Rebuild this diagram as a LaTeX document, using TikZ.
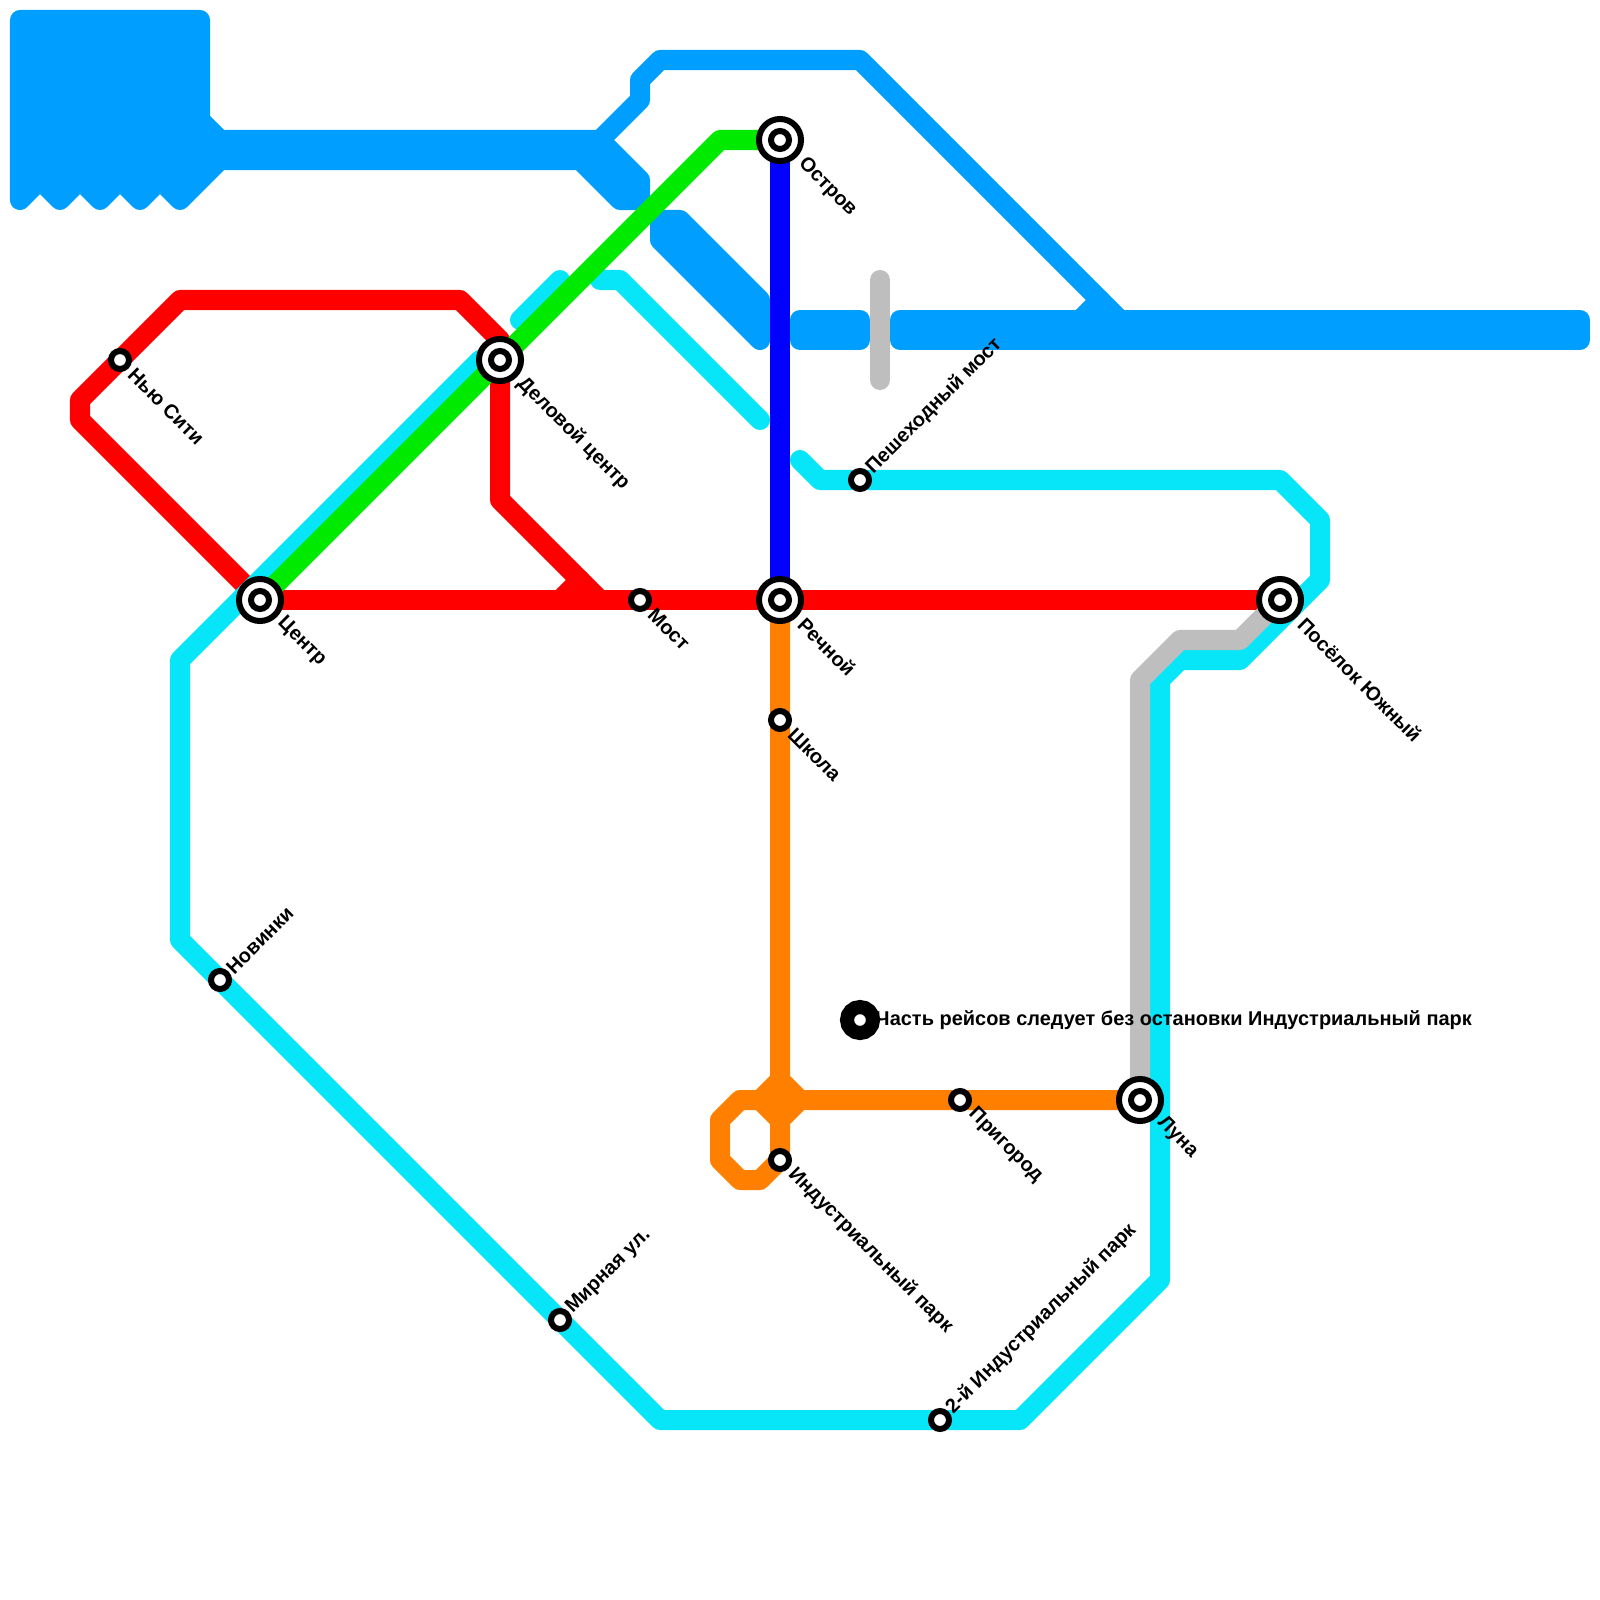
\documentclass[tikz,border=0pt]{standalone}
\usepackage{fontspec}
\setmainfont{Liberation Sans}
\usetikzlibrary{backgrounds}

\definecolor{skyline}{HTML}{009EFF}
\definecolor{aqualine}{HTML}{07E6F8}
\definecolor{grassline}{HTML}{00EA00}
\definecolor{ambline}{HTML}{FF8000}
\definecolor{ashline}{HTML}{BEBEBE}

\tikzset{
  route/.style={line width=0.2cm,line cap=round,line join=round},
  band/.style={line width=0.2cm,line join=round,draw=skyline,fill=skyline},
  stopring/.style={circle,draw=black,fill=white,line width=0.06cm,inner sep=0pt,minimum size=0.18cm},
  hub/.style={circle,draw=black,fill=white,line width=0.06cm,inner sep=0pt,minimum size=0.42cm},
  hubcore/.style={circle,draw=black,fill=white,line width=0.06cm,inner sep=0pt,minimum size=0.18cm},
  namedown/.style={anchor=west,rotate=-45,inner sep=0pt,font=\fontsize{5.68}{7}\bfseries},
  nameup/.style={anchor=west,rotate=45,inner sep=0pt,font=\fontsize{5.68}{7}\bfseries},
}

\begin{document}
\begin{tikzpicture}[x=0.01cm,y=-0.01cm]
  \useasboundingbox (0,0) rectangle (1600,1600);

  % Interchanges
  \foreach \n/\px/\py in {centr/260/600,delovoy/500/360,ostrov/780/140,rechnoy/780/600,
                          yuzhny/1280/600,luna/1140/1100} {
    \node[hub] (\n) at (\px,\py) {};
    \node[hubcore] (\n core) at (\n) {};
  }

  % Plain stops
  \foreach \n/\px/\py in {nyucity/120/360,most/640/600,shkola/780/720,novinki/220/980,
                          peshmost/860/480,mirnaya/560/1320,vtoroy/940/1420,
                          prigorod/960/1100,indpark/780/1160} {
    \node[stopring] (\n) at (\px,\py) {};
  }

  % Note mark
  \node[circle,draw=black,fill=white,line width=0.14cm,inner sep=0pt,minimum size=0.26cm] (notemark) at (860,1020) {};

  \begin{pgfonlayer}{background}
    % Wide blue bands
    \filldraw[band] (20,20) -- (200,20) -- (200,120) -- (220,140) -- (220,160) -- (180,200)
      -- (160,180) -- (140,200) -- (120,180) -- (100,200) -- (80,180) -- (60,200)
      -- (40,180) -- (20,200) -- cycle;
    \filldraw[band] (220,140) -- (600,140) -- (640,180) -- (640,200) -- (620,200)
      -- (580,160) -- (220,160) -- cycle;
    \filldraw[band] (660,220) -- (680,220) -- (760,300) -- (760,340) -- (660,240) -- cycle;
    \filldraw[band] (800,320) -- (860,320) -- (860,340) -- (800,340) -- cycle;
    \filldraw[band] (900,320) -- (1580,320) -- (1580,340) -- (900,340) -- cycle;

    % Thin blue branch
    \draw[route,skyline] (600,140) -- (640,100) -- (640,80) -- (660,60) -- (860,60) -- (1120,320);
    \draw[route,skyline] (1100,300) -- (1080,320);

    % Red
    \draw[route,red] (centr.center) -- (80,420) -- (80,400) -- (180,300) -- (460,300)
      -- (500,340) -- (delovoy.center) -- (500,500) -- (600,600);
    \draw[route,red] (centr.center) -- (yuzhny.center);
    \draw[route,red] (580,580) -- (560,600);

    % Cyan ring
    \draw[route,aqualine] (480,360) -- (180,660)
      -- (180,940) -- (660,1420) -- (1020,1420) -- (1160,1280) -- (1160,680) -- (1180,660)
      -- (1240,660) -- (1320,580) -- (1320,520) -- (1280,480) -- (820,480) -- (800,460);
    \draw[route,aqualine] (520,320) -- (560,280);
    \draw[route,aqualine] (600,280) -- (620,280) -- (760,420);

    % Grey line and footbridge
    \draw[route,ashline] (luna.center) -- (1140,680) -- (1180,640) -- (1240,640) -- (yuzhny.center);
    \draw[route,ashline] (880,280) -- (880,380);

    % Green and blue
    \draw[route,grassline] (centr.center) -- (720,140) -- (ostrov.center);
    \draw[route,blue] (ostrov.center) -- (rechnoy.center);

    % Orange
    \draw[route,ambline] (rechnoy.center) -- (indpark.center) -- (760,1180) -- (740,1180)
      -- (720,1160) -- (720,1120) -- (740,1100) -- (luna.center);
    \filldraw[route,ambline] (760,1100) -- (780,1080) -- (800,1100) -- (780,1120) -- cycle;
  \end{pgfonlayer}

  % Stop names
  \node[namedown] (nyucitylbl) at ([shift={(11,11)}]nyucity.center) {Нью Сити};
  \node[namedown] (centrlbl) at ([shift={(20,20)}]centr.center) {Центр};
  \node[namedown] (delovoylbl) at ([shift={(20,20)}]delovoy.center) {Деловой центр};
  \node[namedown] (ostrovlbl) at ([shift={(21,21)}]ostrov.center) {Остров};
  \node[namedown] (rechnoylbl) at ([shift={(21,21)}]rechnoy.center) {Речной};
  \node[namedown] (mostlbl) at ([shift={(11,11)}]most.center) {Мост};
  \node[namedown] (shkolalbl) at ([shift={(11,11)}]shkola.center) {Школа};
  \node[namedown] (prigorodlbl) at ([shift={(11,11)}]prigorod.center) {Пригород};
  \node[namedown] (indparklbl) at ([shift={(11,11)}]indpark.center) {Индустриальный парк};
  \node[namedown] (lunalbl) at ([shift={(20,20)}]luna.center) {Луна};
  \node[namedown] (yuzhnylbl) at ([shift={(21,21)}]yuzhny.center) {Посёлок Южный};
  \node[nameup] (novinkilbl) at ([shift={(9,-9)}]novinki.center) {Новинки};
  \node[nameup] (peshmostlbl) at ([shift={(9,-9)}]peshmost.center) {Пешеходный мост};
  \node[nameup] (mirnayalbl) at ([shift={(9,-9)}]mirnaya.center) {Мирная ул.};
  \node[nameup] (vtoroylbl) at ([shift={(9,-9)}]vtoroy.center) {2-й Индустриальный парк};

  % Note
  \node[anchor=west,inner sep=0pt,font=\fontsize{5.68}{7}\bfseries] (notelbl) at (875,1020) {Часть рейсов следует без остановки Индустриальный парк};

\end{tikzpicture}
\end{document}
